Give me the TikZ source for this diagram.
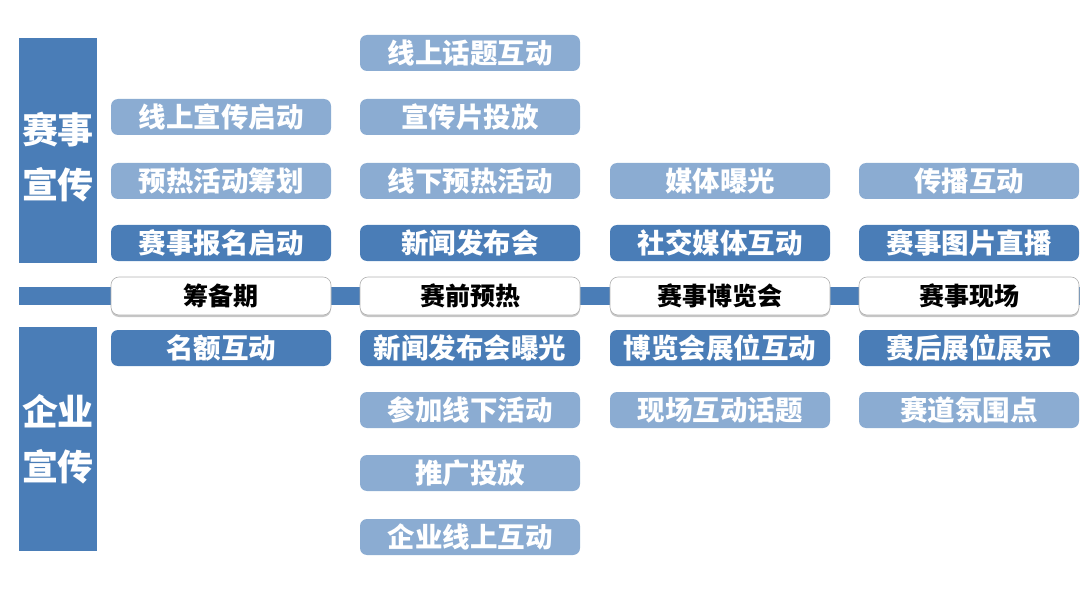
\documentclass[tikz,border=0pt]{standalone}
\usepackage{fontspec}
\newfontfamily\cjk{Noto Sans CJK SC}
\usetikzlibrary{shadows}
\definecolor{darkb}{RGB}{74,125,183}
\definecolor{lightb}{RGB}{139,172,210}
\tikzset{
  item/.style={rounded corners=7pt, minimum width=220pt, minimum height=36pt, inner sep=0pt,
    text=white, font=\cjk\bfseries\fontsize{27.5}{27.5}\selectfont},
  dk/.style={item, fill=darkb},
  lt/.style={item, fill=lightb},
  phase/.style={rounded corners=8pt, minimum width=220pt, minimum height=38pt, inner sep=0pt,
    fill=white, draw=gray!60, line width=0.6pt, text=black,
    font=\cjk\bfseries\fontsize{25}{25}\selectfont,
    drop shadow={opacity=0.45, shadow xshift=0pt, shadow yshift=-2pt}},
  bar/.style={fill=darkb, minimum width=78pt, inner sep=0pt},
  bartext/.style={text=white, align=center, font=\cjk\bfseries\fontsize{36}{55}\selectfont}
}
\begin{document}
\begin{tikzpicture}[x=1pt,y=-1pt]
\useasboundingbox (0,0) rectangle (1080,607);
% left bars
\node[bar, minimum height=225pt] (b1) at (58,150.5) {};
\node[bar, minimum height=224pt] (b2) at (58,439) {};
\node[bartext] (t1) at (58,157) {赛事\\宣传};
\node[bartext] (t2) at (58,439) {企业\\宣传};
% band
\fill[darkb] (19,287) rectangle (1080,305);
% phases
\node[phase] (p1) at (221,296) {筹备期};
\node[phase] (p2) at (470,296) {赛前预热};
\node[phase] (p3) at (720,296) {赛事博览会};
\node[phase] (p4) at (969,296) {赛事现场};
% column 1
\node[lt] (a1) at (221,117) {线上宣传启动};
\node[lt] (a2) at (221,181) {预热活动筹划};
\node[dk] (a3) at (221,243) {赛事报名启动};
\node[dk] (a4) at (221,348) {名额互动};
% column 2
\node[lt] (c1) at (470,53) {线上话题互动};
\node[lt] (c2) at (470,117) {宣传片投放};
\node[lt] (c3) at (470,181) {线下预热活动};
\node[dk] (c4) at (470,243) {新闻发布会};
\node[dk] (c5) at (470,348) {新闻发布会曝光};
\node[lt] (c6) at (470,410) {参加线下活动};
\node[lt] (c7) at (470,473) {推广投放};
\node[lt] (c8) at (470,537) {企业线上互动};
% column 3
\node[lt] (d1) at (720,181) {媒体曝光};
\node[dk] (d2) at (720,243) {社交媒体互动};
\node[dk] (d3) at (720,348) {博览会展位互动};
\node[lt] (d4) at (720,410) {现场互动话题};
% column 4
\node[lt] (e1) at (969,181) {传播互动};
\node[dk] (e2) at (969,243) {赛事图片直播};
\node[dk] (e3) at (969,348) {赛后展位展示};
\node[lt] (e4) at (969,410) {赛道氛围点};
\end{tikzpicture}
\end{document}
